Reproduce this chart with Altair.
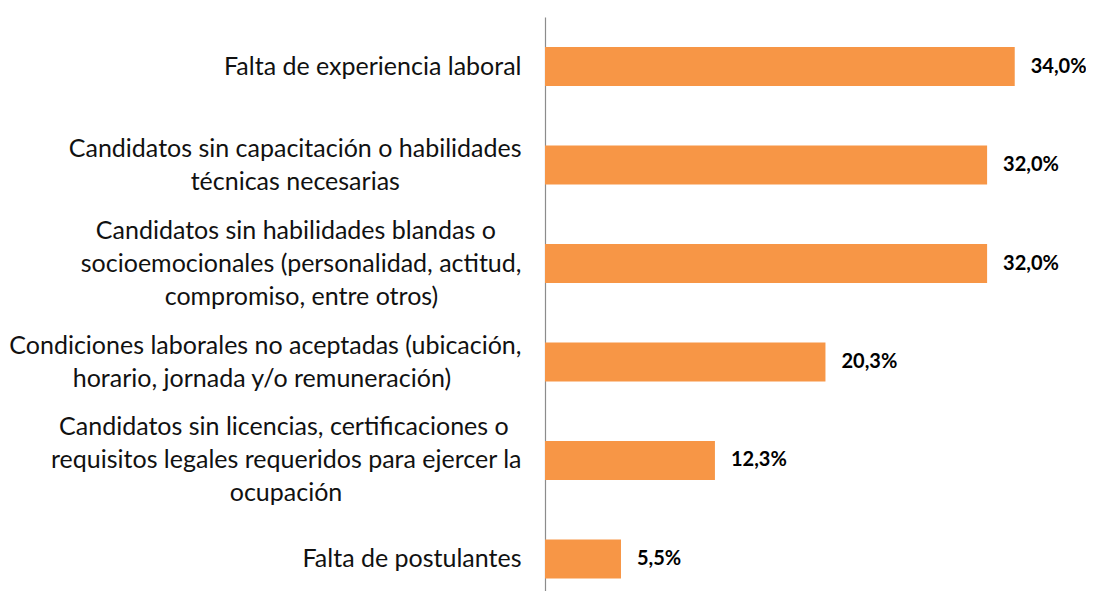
import altair as alt
import pandas as pd

categories = [
    "Falta de experiencia laboral",
    "Candidatos sin capacitación o habilidades\ntécnicas necesarias",
    "Candidatos sin habilidades blandas o\nsocioemocionales (personalidad, actitud,\ncompromiso, entre otros)",
    "Condiciones laborales no aceptadas (ubicación,\nhorario, jornada y/o remuneración)",
    "Candidatos sin licencias, certificaciones o\nrequisitos legales requeridos para ejercer la\nocupación",
    "Falta de postulantes",
]
values = [34.0, 32.0, 32.0, 20.3, 12.3, 5.5]

FONT = "Lato"
NBSP = "\u00a0"
ZWSP = "\u200b"  # keeps the trailing no-break spaces from being trimmed
SPACE_EM = 0.25
LINE_H = 33


# rough glyph widths (em) so that each wrapped line can be centred inside
# its right-aligned block, as in the original (text layout only)
def approx_width(s):
    w = 0.0
    for ch in s:
        if ch == " ":
            w += SPACE_EM
        elif ch in "iljíI":
            w += 0.24
        elif ch == "t":
            w += 0.33
        elif ch == "r":
            w += 0.35
        elif ch == "f":
            w += 0.30
        elif ch in ",.":
            w += 0.22
        elif ch in "()":
            w += 0.30
        elif ch == "/":
            w += 0.37
        elif ch in "mM":
            w += 0.84
        elif ch in "wW":
            w += 0.76
        elif ch.isupper():
            w += 0.65
        elif ch == "s":
            w += 0.42
        else:
            w += 0.53
    return w


def centre_lines(label):
    lines = label.split("\n")
    if len(lines) == 1:
        return label
    widest = max(approx_width(l) for l in lines)
    out = []
    for l in lines:
        pad = int(round((widest - approx_width(l)) / 2 / SPACE_EM))
        out.append(l + NBSP * pad + (ZWSP if pad else ""))
    return "\n".join(out)


display = [centre_lines(c) for c in categories]

df = pd.DataFrame({"categoria": display, "valor": values})

n_lines = "length(split(datum.value, '\\n'))"

y_enc = alt.Y(
    "categoria:N",
    sort=display,
    scale=alt.Scale(paddingInner=0.604, paddingOuter=0.216, align=0.706),
    axis=alt.Axis(
        title=None,
        ticks=False,
        labelExpr="split(datum.label, '\\n')",
        labelFont=FONT,
        labelFontSize=25,
        labelLineHeight=LINE_H,
        labelColor="#111111",
        labelPadding=24,
        labelLimit=0,
        labelOffset={
            "condition": [
                {"test": f"{n_lines} == 3", "value": -LINE_H},
                {"test": f"{n_lines} == 2", "value": -LINE_H / 2},
            ],
            "value": 0,
        },
        domainColor="#8c8c8c",
        domainWidth=1.2,
        grid=False,
    ),
)

x_enc = alt.X(
    "valor:Q",
    scale=alt.Scale(domain=[0, 38], nice=False, zero=True),
    axis=None,
)

bars = alt.Chart(df).mark_bar(color="#F79646").encode(x=x_enc, y=y_enc)

labels = (
    alt.Chart(df)
    .transform_calculate(
        etiqueta="replace(format(datum.valor, '.1f'), '.', ',') + '%'"
    )
    .mark_text(
        align="left",
        baseline="middle",
        dx=16,
        font=FONT,
        fontSize=20,
        fontWeight="bold",
        color="#000000",
    )
    .encode(x=x_enc, y=alt.Y("categoria:N", sort=display), text="etiqueta:N")
)

chart = (
    alt.layer(bars, labels)
    .properties(
        width=525,
        height=574,
        autosize=alt.AutoSizeParams(type="none"),
        padding={"left": 537, "top": 9, "right": 16, "bottom": 0},
    )
    .configure_view(stroke=None)
)

chart.save("out.html", embed_options={"renderer": "svg", "actions": False})
